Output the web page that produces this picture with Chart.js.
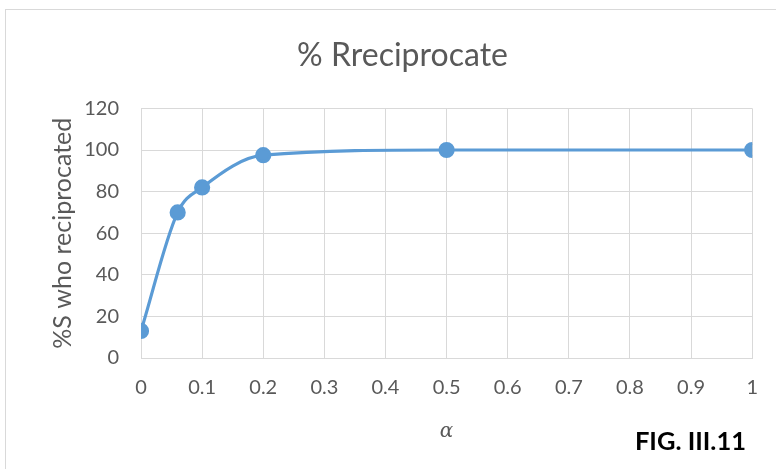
<!DOCTYPE html>
<html>
<head>
<meta charset="utf-8">
<script src="https://cdn.jsdelivr.net/npm/chart.js@4.4.1/dist/chart.umd.min.js"></script>
<style>
  html, body { margin: 0; padding: 0; background: #fff; }
  #wrap { position: relative; width: 776px; height: 469px; overflow: hidden; }
  #frame { position: absolute; left: 5px; top: 9px; width: 800px; height: 500px; border: 1px solid #d9d9d9; box-sizing: border-box; }
  #fig { position: absolute; right: 30px; top: 425px; font: bold 25.5px Lato, sans-serif; color: #000; }
  canvas { position: absolute; left: 0; top: 0; }
</style>
</head>
<body>
<div id="wrap">
  <div id="frame"></div>
  <canvas id="myChart" width="776" height="469"></canvas>
  <div id="fig">FIG. III.11</div>
</div>
<script>
const chartContainer = document.querySelector("#myChart");

const alphaValues = [0, 0.06, 0.1, 0.2, 0.5, 1];
const pctReciprocated = [13, 70, 82, 97.5, 100, 100];
const xTicks = [0, 0.1, 0.2, 0.3, 0.4, 0.5, 0.6, 0.7, 0.8, 0.9, 1];
const yTicks = [0, 20, 40, 60, 80, 100, 120];

const points = alphaValues.map((a, i) => ({ x: a, y: pctReciprocated[i] }));
const tickColor = "#595959";
const gridColor = "#d9d9d9";
const font = "Lato, 'Open Sans', sans-serif";

const config = {
  type: "scatter",
  data: {
    datasets: [
      {
        data: points,
        showLine: true,
        borderColor: "#5b9bd5",
        backgroundColor: "#5b9bd5",
        borderWidth: 3.2,
        pointRadius: 6.5,
        pointHoverRadius: 6.5,
        cubicInterpolationMode: "monotone",
      },
    ],
  },
  options: {
    responsive: false,
    animation: false,
    layout: { padding: { left: 45, right: 16, top: 10, bottom: 21 } },
    plugins: {
      legend: { display: false },
      tooltip: { enabled: false },
      title: {
        display: true,
        text: "% Rreciprocate",
        color: tickColor,
        font: { family: font, size: 32, weight: "normal" },
        padding: { top: 26, bottom: 34 },
      },
    },
    scales: {
      x: {
        type: "linear",
        min: 0,
        max: 1,
        afterBuildTicks: (s) => { s.ticks = xTicks.map((v) => ({ value: v })); },
        ticks: {
          color: tickColor,
          font: { family: font, size: 20 },
          padding: 18,
          callback: (v) => String(v),
        },
        grid: { color: gridColor, drawTicks: false },
        border: { color: gridColor },
        title: {
          display: true,
          text: "α",
          color: tickColor,
          font: { family: "'DejaVu Serif', serif", size: 20, style: "italic" },
          padding: { top: 2 },
        },
      },
      y: {
        min: 0,
        max: 120,
        afterBuildTicks: (s) => { s.ticks = yTicks.map((v) => ({ value: v })); },
        afterFit: (s) => { s.width = 96; },
        ticks: { color: tickColor, font: { family: font, size: 20 }, padding: 22 },
        grid: { color: gridColor, drawTicks: false },
        border: { color: gridColor },
        title: {
          display: true,
          text: "%S who reciprocated",
          color: tickColor,
          font: { family: font, size: 25 },
          padding: 3,
        },
      },
    },
  },
};

const myChart = new Chart(chartContainer, config);
</script>
</body>
</html>
